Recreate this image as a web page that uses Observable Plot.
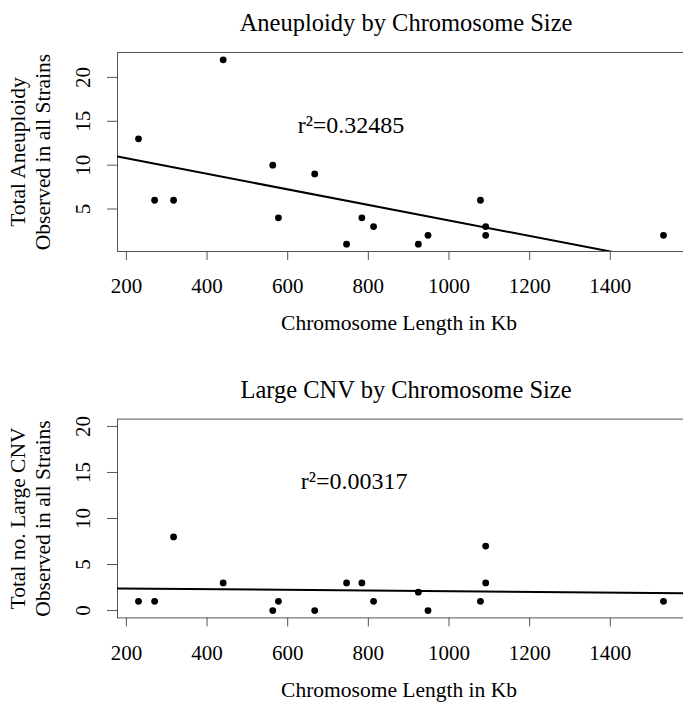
<!DOCTYPE html>
<html>
<head>
<meta charset="utf-8">
<script src="https://cdn.jsdelivr.net/npm/d3@7"></script>
<script src="https://cdn.jsdelivr.net/npm/@observablehq/plot@0.6"></script>
<style>
html, body { margin: 0; padding: 0; background: #fff; overflow: hidden; }
#chart svg { display: block; font-family: 'Liberation Serif', 'Times New Roman', serif; }
#chart svg text { font-family: 'Liberation Serif', 'Times New Roman', serif; font-variant: normal; }
</style>
</head>
<body>
<div id="chart"></div>
<script>
// Yeast chromosomes I..XVI
const chromosomes = ["I","II","III","IV","V","VI","VII","VIII","IX","X","XI","XII","XIII","XIV","XV","XVI"];
const lengthKb   = [230, 813, 317, 1532, 577, 270, 1091, 563, 440, 746, 667, 1078, 924, 784, 1091, 948];
const aneuploidy = [13, 3, 6, 2, 4, 6, 3, 10, 22, 1, 9, 6, 1, 4, 2, 2];
const largeCNV   = [1, 1, 8, 1, 1, 1, 7, 0, 3, 3, 0, 1, 2, 3, 3, 0];

const xTicks = [200, 400, 600, 800, 1000, 1200, 1400];
const yTicksTop = [5, 10, 15, 20];
const yTicksBottom = [0, 5, 10, 15, 20];

const titles = ["Aneuploidy by Chromosome Size", "Large CNV by Chromosome Size"];
const yLabelsTop = ["Total Aneuploidy", "Observed in all Strains"];
const yLabelsBottom = ["Total no. Large CNV", "Observed in all Strains"];
const xLabel = "Chromosome Length in Kb";
const r2Labels = ["r\u00b2=0.32485", "r\u00b2=0.00317"];
const r2Pos = [[757, 14.5], [765, 14]];
const bottomYLimits = [0, 20];

function pad(ext) { const d = (ext[1] - ext[0]) * 0.04; return [ext[0] - d, ext[1] + d]; }
const xDomain = pad(d3.extent(lengthKb));

function fit(xs, ys) {
  const mx = d3.mean(xs), my = d3.mean(ys);
  let sxy = 0, sxx = 0;
  xs.forEach((x, i) => { sxy += (x - mx) * (ys[i] - my); sxx += (x - mx) ** 2; });
  const b = sxy / sxx, a = my - b * mx;
  return x => a + b * x;
}

const FONT = "Liberation Serif";

function panel({ys, yDomain, yTicks, title, ylab, r2, r2xy, height, marginTop, marginBottom, titleDy}) {
  const data = lengthKb.map((x, i) => ({chrom: chromosomes[i], x, y: ys[i]}));
  const f = fit(lengthKb, ys);
  const line = xDomain.map(x => ({x, y: f(x)}));
  return Plot.plot({
    width: 683,
    height,
    marginLeft: 117,
    marginRight: -1,
    marginTop,
    marginBottom,
    x: {domain: xDomain},
    y: {domain: yDomain},
    style: {fontSize: "21px", color: "#000", background: "#fff", overflow: "visible"},
    marks: [
      Plot.frame({stroke: "#555", strokeWidth: 1}),
      Plot.axisX(xTicks, {tickSize: 9, tickPadding: 18, fontSize: 21, fontFamily: FONT, tickFormat: d => String(d), label: null, stroke: "#555", fill: "#000"}),
      Plot.axisY(yTicks, {tickSize: 10, tickFormat: () => "", label: null, stroke: "#555"}),
      Plot.text(yTicks, {y: d => d, text: d => String(d), frameAnchor: "left", dx: -34, rotate: -90, textAnchor: "middle", lineAnchor: "middle", fontSize: 21, fontFamily: FONT, fill: "#000"}),
      Plot.text([ylab[0]], {text: d => d, frameAnchor: "left", dx: -99, rotate: -90, textAnchor: "middle", lineAnchor: "middle", fontSize: 21.5, fontFamily: FONT, fill: "#000"}),
      Plot.text([ylab[1]], {text: d => d, frameAnchor: "left", dx: -74, rotate: -90, textAnchor: "middle", lineAnchor: "middle", fontSize: 21.5, fontFamily: FONT, fill: "#000"}),
      Plot.text([xLabel], {text: d => d, frameAnchor: "bottom", dx: -2, dy: 72, lineAnchor: "middle", fontSize: 21.5, fontFamily: FONT, fill: "#000"}),
      Plot.text([title], {text: d => d, frameAnchor: "top", dx: 5, dy: titleDy, lineAnchor: "middle", fontSize: 24.5, fontFamily: FONT, fill: "#000"}),
      Plot.line(line, {x: "x", y: "y", stroke: "#000", strokeWidth: 2, clip: true}),
      Plot.dot(data, {x: "x", y: "y", r: 3.4, fill: "#000", stroke: "none"}),
      Plot.text([r2], {text: d => d, x: () => r2xy[0], y: () => r2xy[1], fontSize: 24, fontFamily: FONT, fill: "#000"})
    ]
  });
}

const chart = document.getElementById("chart");
chart.append(panel({
  ys: aneuploidy,
  yDomain: pad(d3.extent(aneuploidy)),
  yTicks: yTicksTop,
  title: titles[0],
  ylab: yLabelsTop,
  r2: r2Labels[0],
  r2xy: r2Pos[0],
  height: 351,
  marginTop: 52,
  marginBottom: 100,
  titleDy: -29
}));
chart.append(panel({
  ys: largeCNV,
  yDomain: pad(bottomYLimits),
  yTicks: yTicksBottom,
  title: titles[1],
  ylab: yLabelsBottom,
  r2: r2Labels[1],
  r2xy: r2Pos[1],
  height: 351,
  marginTop: 67.6,
  marginBottom: 84.6,
  titleDy: -29
}));
</script>
</body>
</html>
